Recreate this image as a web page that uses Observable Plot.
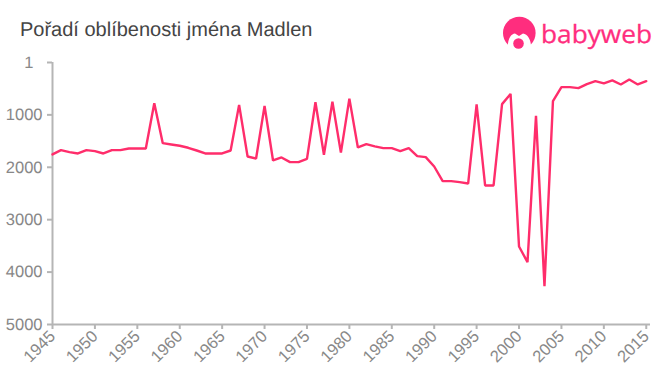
<!DOCTYPE html>
<html lang="cs">
<head>
<meta charset="utf-8">
<script src="https://cdn.jsdelivr.net/npm/d3@7"></script>
<script src="https://cdn.jsdelivr.net/npm/@observablehq/plot@0.6"></script>
<style>
html,body{margin:0;padding:0;background:#fff;width:660px;height:375px;overflow:hidden}
#wrap{position:relative;width:660px;height:375px;text-rendering:geometricPrecision}
#title{position:absolute;left:20px;top:18px;font:20px "Liberation Sans",Arial,sans-serif;color:#444;line-height:24px;white-space:nowrap}
#head{height:50px}
#logo{position:absolute;left:500px;top:14px}
#chart svg{display:block}
</style>
</head>
<body>
<div id="wrap">
<div id="head"></div>
<div id="title">Pořadí oblíbenosti jména Madlen</div>
<svg id="logo" width="156" height="40" viewBox="0 0 156 40">
<circle cx="19.300" cy="19" r="16.300" fill="#ff2d7e"/>
<path d="M8 36C7 27 10 20 15 19.500L19 22 23 19.500C28 20 32 27 31 36Z" fill="#fff"/>
<rect x="0" y="31.500" width="40" height="8.500" fill="#fff"/>
<circle cx="18.500" cy="29.500" r="5.300" fill="#ff2d7e"/>
<text x="41" y="28.500" font-family="'Open Sans',Lato,sans-serif" font-size="25" fill="#ff2d7e" stroke="#ff2d7e" stroke-width="0.300" textLength="111" lengthAdjust="spacingAndGlyphs">babyweb</text>
</svg>
<div id="chart"></div>
</div>
<script>
const years = d3.range(1945, 2016);
const ranks = [
1755,1673,1711,1737,1673,1692,1737,1673,1673,1641,1641,1641,780,1540,1565,1590,1628,1680,1737,1737,1737,
1680,810,1794,1832,830,1870,1813,1902,1902,1839,760,1760,750,1720,690,1622,1558,1600,1635,1635,1692,1635,
1788,1807,1985,2265,2265,2284,2310,800,2347,2347,795,600,3511,3810,1020,4270,738,471,471,490,414,357,400,343,420,324,420,357
];
const yTicks = [1000,2000,3000,4000,5000];
const xTicks = d3.range(1945, 2016, 5);
const data = years.map((y,i)=>({year:y,rank:ranks[i]}));
const grey = "#b5b5b5", labelGrey = "#888";
const chart = Plot.plot({
  width:660, height:325,
  marginLeft:52, marginRight:10, marginTop:12, marginBottom:51,
  style:{fontFamily:'"Liberation Sans",Arial,sans-serif',background:"#fff",overflow:"visible"},
  x:{domain:[1945,2015.5],range:[52,650],label:null},
  y:{domain:[1,5000],range:[12,274],label:null},
  marks:[
    Plot.axisY({anchor:"left",ticks:yTicks,tickSize:5,tickPadding:5,tickFormat:d=>String(d),fontSize:16.5,color:labelGrey,stroke:grey,strokeWidth:2,strokeOpacity:1,label:null}),
    Plot.axisY({anchor:"left",ticks:[1],tickSize:5,tickPadding:14,tickFormat:d=>String(d),fontSize:16.5,color:labelGrey,stroke:grey,strokeWidth:2,strokeOpacity:1,label:null}),
    Plot.axisX({anchor:"bottom",ticks:xTicks,tickSize:5,tickPadding:4,tickRotate:-45,tickFormat:d=>String(d),fontSize:16.5,color:labelGrey,stroke:grey,strokeWidth:2,strokeOpacity:1,label:null}),
    Plot.ruleX([1945],{stroke:grey,strokeWidth:2}),
    Plot.ruleY([5000],{stroke:grey,strokeWidth:2}),
    Plot.lineY(data,{x:"year",y:"rank",stroke:"#ff2d6b",strokeWidth:2.4,strokeLinejoin:"miter"})
  ]
});
document.getElementById("chart").appendChild(chart);
</script>
</body>
</html>
